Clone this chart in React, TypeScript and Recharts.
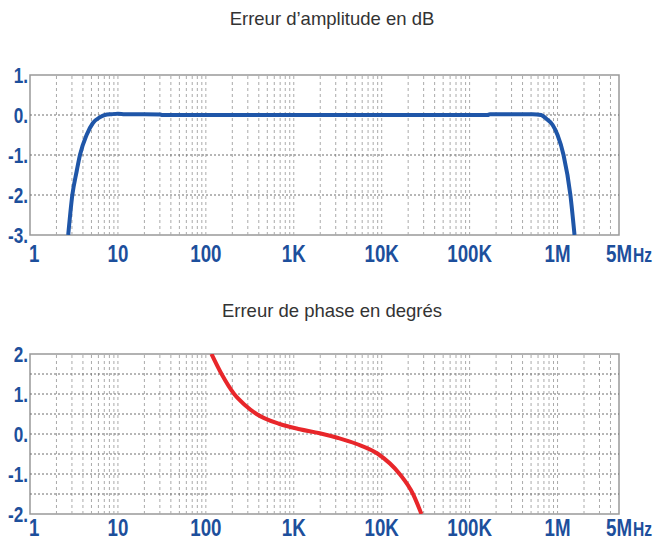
import React from "react";
import { LineChart, Line, XAxis, YAxis, ReferenceLine, ReferenceArea } from "recharts";

// x axis: log frequency, 1 Hz .. 5 MHz
const freqTicks = [1, 10, 100, 1e3, 1e4, 1e5, 1e6, 5e6];
const freqLabels = ["1", "10", "100", "1K", "10K", "100K", "1M", "5M"];

const ampTicks = [-3, -2, -1, 0, 1];
const phaseTicks = [-2, -1, 0, 1, 2];
const phaseGrid = [-1.5, -1, -0.5, 0, 0.5, 1, 1.5];

// amplitude error (dB)
const ampFreq = [
  2.72, 3.03, 3.4, 3.7, 4.4, 5.2, 6.2, 7.1, 8.5, 10, 12, 20, 30, 32, 100, 1e3, 1e4, 1e5,
  1.6e5, 1.7e5, 5.2e5, 6.5e5, 7.5e5, 8.8e5, 1e6, 1.17e6, 1.4e6, 1.56e6,
];
const ampDb = [
  -3, -2, -1.4, -1, -0.5, -0.2, -0.06, 0, 0.02, 0.03, 0.02, 0.02, 0.01, 0, 0, 0, 0, 0,
  0, 0.02, 0.02, 0, -0.1, -0.25, -0.5, -1, -2, -3,
];

// phase error (degrees)
const phaseFreq = [116, 151, 210, 280, 377, 690, 1170, 1970, 3200, 5200, 9100, 16000, 22700, 28300];
const phaseDeg = [2, 1.5, 1, 0.72, 0.5, 0.25, 0.12, 0.02, -0.1, -0.25, -0.5, -1, -1.5, -2];

const ampData = ampFreq.map((f, i) => ({ f, v: ampDb[i] }));
const phaseData = phaseFreq.map((f, i) => ({ f, v: phaseDeg[i] }));

// minor log grid lines 2..9 per decade
const minorGrid: number[] = [];
for (let d = 1; d <= 1e6; d *= 10) {
  for (let k = 1; k <= 9; k++) {
    const v = k * d;
    if (v > 1 && v < 5e6) minorGrid.push(v);
  }
}

const labelBlue = "#1d4f9c";
const tickFont = "'Liberation Sans', Arial, sans-serif";

// narrow bold label (horizontally squeezed Arial bold)
function Narrow({ x, y, anchor, size, children }: any) {
  return (
    <text
      transform={`translate(${x},${y}) scale(0.78,1)`}
      textAnchor={anchor}
      fill={labelBlue}
      fontFamily={tickFont}
      fontWeight={700}
      fontSize={size}
    >
      {children}
    </text>
  );
}

function FreqTick(props: any) {
  const { x, y, payload, drop } = props;
  const i = freqTicks.indexOf(payload.value);
  const by = y + drop;
  if (payload.value === 5e6) {
    return (
      <g>
        <Narrow x={x + 13} y={by} anchor="end" size={24}>5M</Narrow>
        <Narrow x={x + 14} y={by} anchor="start" size={20}>Hz</Narrow>
      </g>
    );
  }
  const first = payload.value === 1;
  return (
    <Narrow x={first ? x - 1 : x} y={by} anchor={first ? "start" : "middle"} size={24}>
      {freqLabels[i]}
    </Narrow>
  );
}

function ValTick(props: any) {
  const { x, y, payload } = props;
  return (
    <Narrow x={x} y={y + 8} anchor="end" size={22}>
      {`${payload.value}.`}
    </Narrow>
  );
}

function Panel({ data, domain, ticks, hLines, color, drop }: any) {
  return (
    <LineChart width={654} height={272} data={data} margin={{ top: 75, right: 35, bottom: 0, left: 0 }}>
      <XAxis
        dataKey="f"
        type="number"
        scale="log"
        domain={[1, 5e6]}
        ticks={freqTicks}
        interval={0}
        allowDataOverflow
        axisLine={false}
        tickLine={false}
        tickSize={0}
        tickMargin={0}
        height={37}
        tick={(p: any) => <FreqTick {...p} drop={drop} />}
      />
      <YAxis
        type="number"
        domain={domain}
        ticks={ticks}
        interval={0}
        allowDataOverflow
        width={30}
        axisLine={false}
        tickLine={false}
        tickSize={0}
        tickMargin={2}
        tick={(p: any) => <ValTick {...p} />}
      />
      {minorGrid.map((v) => (
        <ReferenceLine key={"v" + v} x={v} stroke="#aaaaaa" strokeDasharray="3 3" strokeWidth={1} />
      ))}
      {hLines.map((v: number) => (
        <ReferenceLine key={"h" + v} y={v} stroke="#6f6f6f" strokeDasharray="2 2" strokeWidth={1} />
      ))}
      <ReferenceArea x1={1} x2={5e6} y1={domain[0]} y2={domain[1]} fill="none" stroke="#999999" strokeWidth={1.5} />
      <Line dataKey="v" type="monotone" stroke={color} strokeWidth={4} dot={false} isAnimationActive={false} />
    </LineChart>
  );
}

export default function App() {
  const titleStyle: React.CSSProperties = {
    position: "absolute",
    left: 5,
    width: 654,
    textAlign: "center",
    fontFamily: "'Liberation Sans', Arial, sans-serif",
    fontSize: 18.5,
    lineHeight: "normal",
    color: "#333333",
  };
  return (
    <div style={{ position: "absolute", left: 0, top: 0, width: 654, height: 542, background: "#fff" }}>
      <div style={{ ...titleStyle, top: 8 }}>Erreur d’amplitude en dB</div>
      <div style={{ position: "absolute", left: 0, top: 0 }}>
        <Panel data={ampData} domain={[-3, 1]} ticks={ampTicks} hLines={[-2, -1, 0]} color="#1f56a8" drop={27} />
      </div>
      <div style={{ ...titleStyle, top: 300 }}>Erreur de phase en degrés</div>
      <div style={{ position: "absolute", left: 0, top: 279 }}>
        <Panel data={phaseData} domain={[-2, 2]} ticks={phaseTicks} hLines={phaseGrid} color="#e8262a" drop={22} />
      </div>
    </div>
  );
}
